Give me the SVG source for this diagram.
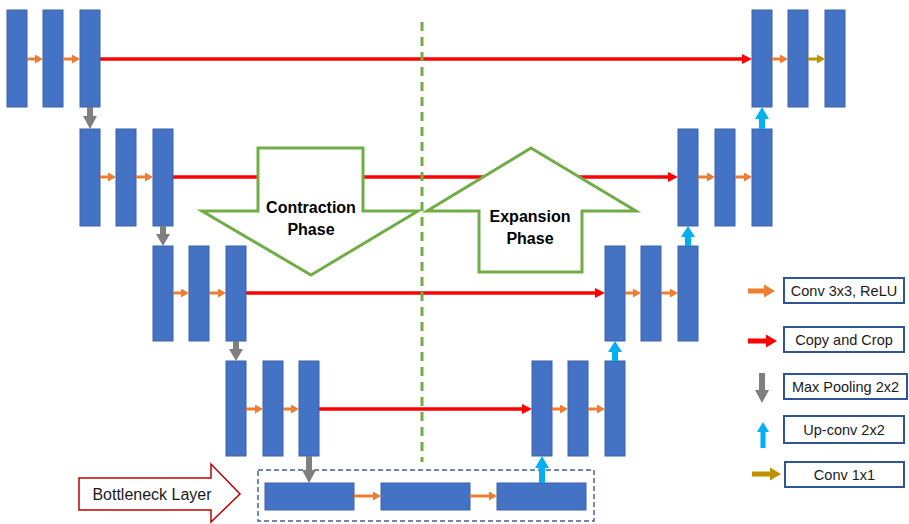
<svg xmlns="http://www.w3.org/2000/svg" width="909" height="524" viewBox="0 0 909 524">
<style>
.bar{fill:#4472C4;stroke:#3A62A8;stroke-width:1}
.or{stroke:#ED7D31;stroke-width:3;fill:none}
.gd{stroke:#BF9000;stroke-width:3;fill:none}
.rd{stroke:#FF0000;stroke-width:3.5;fill:none}
.gy{fill:#7F7F7F}
.bl{fill:#00B0F0}
.phase{fill:#fff;stroke:#70AD47;stroke-width:3;stroke-linejoin:miter}
.pt{font-family:"Liberation Sans",Arial,sans-serif;font-weight:bold;font-size:16px;fill:#000;text-anchor:middle}
.lbox{fill:#fff;stroke:#2F5597;stroke-width:2}
.lt{font-family:"Liberation Sans",Arial,sans-serif;font-size:14.5px;fill:#1a1a1a;text-anchor:middle}
</style>
<defs>
<marker id="mo" markerUnits="userSpaceOnUse" markerWidth="8" markerHeight="9" viewBox="0 0 8 9" refX="0" refY="4.5" orient="auto"><path d="M0,0 L8,4.5 L0,9z" fill="#ED7D31"/></marker>
<marker id="mg" markerUnits="userSpaceOnUse" markerWidth="8" markerHeight="9" viewBox="0 0 8 9" refX="0" refY="4.5" orient="auto"><path d="M0,0 L8,4.5 L0,9z" fill="#BF9000"/></marker>
<marker id="mr" markerUnits="userSpaceOnUse" markerWidth="10" markerHeight="10" viewBox="0 0 10 10" refX="0" refY="5" orient="auto"><path d="M0,0 L10,5 L0,10z" fill="#FF0000"/></marker>
</defs>

<g id="copy-crop">
<line class="rd" x1="100" y1="59" x2="742" y2="59" marker-end="url(#mr)"/>
<line class="rd" x1="173" y1="177" x2="668" y2="177" marker-end="url(#mr)"/>
<line class="rd" x1="246" y1="293" x2="595" y2="293" marker-end="url(#mr)"/>
<line class="rd" x1="319" y1="409" x2="522" y2="409" marker-end="url(#mr)"/>
</g>

<g id="contraction-phase">
<polygon class="phase" points="258,148 363,148 363,211 418,211 311,275 202,211 258,211"/>
<text class="pt" x="311" y="213">Contraction</text>
<text class="pt" x="311" y="235">Phase</text>
</g>
<g id="expansion-phase">
<polygon class="phase" points="531,148 636,211 582,211 582,272 479,272 479,211 427,211"/>
<text class="pt" x="530" y="222">Expansion</text>
<text class="pt" x="530" y="244">Phase</text>
</g>

<line id="divider" x1="422" y1="22" x2="422" y2="462" stroke="#70AD47" stroke-width="3" stroke-dasharray="9,6"/>

<g id="level0-left"><rect class="bar" x="7" y="10" width="20" height="97"/><rect class="bar" x="43" y="10" width="20" height="97"/><rect class="bar" x="80" y="10" width="20" height="97"/></g>
<g id="level1-left"><rect class="bar" x="80" y="129" width="20" height="97"/><rect class="bar" x="116" y="129" width="20" height="97"/><rect class="bar" x="153" y="129" width="20" height="97"/></g>
<g id="level2-left"><rect class="bar" x="153" y="246" width="20" height="95"/><rect class="bar" x="189" y="246" width="20" height="95"/><rect class="bar" x="226" y="246" width="20" height="95"/></g>
<g id="level3-left"><rect class="bar" x="226" y="361" width="20" height="95"/><rect class="bar" x="263" y="361" width="20" height="95"/><rect class="bar" x="299" y="361" width="20" height="95"/></g>
<g id="level3-right"><rect class="bar" x="532" y="361" width="20" height="95"/><rect class="bar" x="568" y="361" width="20" height="95"/><rect class="bar" x="605" y="361" width="20" height="95"/></g>
<g id="level2-right"><rect class="bar" x="605" y="246" width="20" height="95"/><rect class="bar" x="641" y="246" width="20" height="95"/><rect class="bar" x="678" y="246" width="20" height="95"/></g>
<g id="level1-right"><rect class="bar" x="678" y="129" width="20" height="97"/><rect class="bar" x="715" y="129" width="20" height="97"/><rect class="bar" x="752" y="129" width="20" height="97"/></g>
<g id="level0-right"><rect class="bar" x="752" y="10" width="20" height="97"/><rect class="bar" x="788" y="10" width="20" height="97"/><rect class="bar" x="825" y="10" width="20" height="97"/></g>

<g id="bottleneck">
<rect x="258" y="470" width="336" height="51" fill="none" stroke="#44609A" stroke-width="1.5" stroke-dasharray="5,3"/>
<rect class="bar" x="265" y="483" width="89" height="27"/>
<rect class="bar" x="381" y="483" width="89" height="27"/>
<rect class="bar" x="497" y="483" width="89" height="27"/>
</g>

<g id="bottleneck-label">
<polygon points="79,478 211,478 211,464 240,494 211,522 211,510 79,510" fill="#fff" stroke="#C00000" stroke-width="1.5"/>
<text x="152" y="500" font-family="'Liberation Sans',Arial,sans-serif" font-size="16" fill="#1a1a1a" text-anchor="middle">Bottleneck Layer</text>
</g>

<g id="connectors">
<line class="or" x1="27" y1="59" x2="35" y2="59" marker-end="url(#mo)"/>
<line class="or" x1="63" y1="59" x2="72" y2="59" marker-end="url(#mo)"/>
<line class="or" x1="100" y1="177" x2="108" y2="177" marker-end="url(#mo)"/>
<line class="or" x1="136" y1="177" x2="145" y2="177" marker-end="url(#mo)"/>
<line class="or" x1="173" y1="293" x2="181" y2="293" marker-end="url(#mo)"/>
<line class="or" x1="209" y1="293" x2="218" y2="293" marker-end="url(#mo)"/>
<line class="or" x1="246" y1="409" x2="255" y2="409" marker-end="url(#mo)"/>
<line class="or" x1="283" y1="409" x2="291" y2="409" marker-end="url(#mo)"/>
<line class="or" x1="552" y1="409" x2="560" y2="409" marker-end="url(#mo)"/>
<line class="or" x1="588" y1="409" x2="597" y2="409" marker-end="url(#mo)"/>
<line class="or" x1="625" y1="293" x2="633" y2="293" marker-end="url(#mo)"/>
<line class="or" x1="661" y1="293" x2="670" y2="293" marker-end="url(#mo)"/>
<line class="or" x1="698" y1="177" x2="707" y2="177" marker-end="url(#mo)"/>
<line class="or" x1="735" y1="177" x2="744" y2="177" marker-end="url(#mo)"/>
<line class="or" x1="772" y1="59" x2="780" y2="59" marker-end="url(#mo)"/>
<line class="gd" x1="808" y1="59" x2="817" y2="59" marker-end="url(#mg)"/>
<line class="or" x1="354" y1="496" x2="373" y2="496" marker-end="url(#mo)"/>
<line class="or" x1="470" y1="496" x2="489" y2="496" marker-end="url(#mo)"/>
<polygon class="gy" points="87,107 93,107 93,116 97,116 90,129 83,116 87,116"/>
<polygon class="gy" points="160,226 166,226 166,234 170,234 163,246 156,234 160,234"/>
<polygon class="gy" points="233,341 239,341 239,349 243,349 236,361 229,349 233,349"/>
<polygon class="gy" points="306,456 312,456 312,470 316,470 309,483 302,470 306,470"/>
<polygon class="bl" points="759,129 765,129 765,119 769,119 762,107 755,119 759,119"/>
<polygon class="bl" points="685,246 691,246 691,237 695,237 688,226 681,237 685,237"/>
<polygon class="bl" points="612,361 618,361 618,352 622,352 615,341 608,352 612,352"/>
<polygon class="bl" points="539,483 545,483 545,468 549,468 542,456 535,468 539,468"/>
</g>

<g id="legend">
<polygon points="748,288.5 764,288.5 764,284.5 775,291 764,297.5 764,293.5 748,293.5" fill="#ED7D31"/>
<rect class="lbox" x="784" y="278" width="120" height="25"/>
<text class="lt" x="844" y="295.5">Conv 3x3, ReLU</text>
<polygon points="748,338.5 766,338.5 766,334.5 777,341 766,347.5 766,343.5 748,343.5" fill="#FF0000"/>
<rect class="lbox" x="784" y="327" width="120" height="25"/>
<text class="lt" x="844" y="344.5">Copy and Crop</text>
<polygon points="759,373 765,373 765,390 769,390 762,403 755,390 759,390" fill="#7F7F7F"/>
<rect class="lbox" x="784" y="374" width="123" height="25"/>
<text class="lt" x="845.5" y="391.5">Max Pooling 2x2</text>
<polygon points="760.5,448 765.5,448 765.5,432 769,432 763,422 757,432 760.5,432" fill="#00B0F0"/>
<rect class="lbox" x="784" y="416" width="120" height="27"/>
<text class="lt" x="844" y="434.5">Up-conv 2x2</text>
<polygon points="752,471.5 770,471.5 770,467.5 781,474 770,480.5 770,476.5 752,476.5" fill="#BF9000"/>
<rect class="lbox" x="785" y="462" width="119" height="25"/>
<text class="lt" x="844.5" y="479.5">Conv 1x1</text>
</g>
</svg>
